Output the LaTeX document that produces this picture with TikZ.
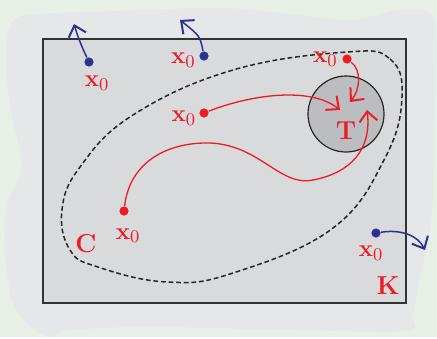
\documentclass[tikz,border=0pt]{standalone}
\usepackage{amsmath,amssymb}
\usepackage{tikz}
\usetikzlibrary{arrows.meta, positioning}
\definecolor{ptred}{HTML}{ED1C24}
\definecolor{ptblue}{HTML}{2E3192}
\definecolor{outside}{HTML}{E7EFE6}
\definecolor{region}{HTML}{E6E7E9}
\definecolor{kfill}{HTML}{D9DADC}
\definecolor{tfill}{HTML}{BCBDC0}
\tikzset{
  bluedot/.style={
    circle,
    fill=ptblue,
    inner sep=0pt,
    minimum size=4.6pt
  },
  reddot/.style={
    bluedot,
    fill=ptred
  },
  initlabel/.style={
    text=ptred,
    inner sep=0pt,
    font=\fontsize{13}{15}\selectfont
  },
  setlabel/.style={
    initlabel,
    font=\fontsize{13}{15}\selectfont\bfseries
  },
  target/.style={
    circle,
    draw=black!85,
    fill=tfill,
    line width=0.6pt,
    minimum size=38pt
  },
  escape/.style={
    -{Straight Barb[length=5pt,width=9pt,line width=1pt]},
    draw=ptblue,
    line width=0.75pt
  },
  reach/.style={
    escape,
    draw=ptred,
    line width=0.65pt
  }
}

\begin{document}
\begin{tikzpicture}[x=0.5pt, y=-0.5pt]
  % background and the outer region
  \fill[outside] (0,0) rectangle (437,337);
  \fill[region] plot[smooth cycle, tension=0.6] coordinates {
    (14,20) (40,14) (120,11) (220,8) (290,14) (350,20) (400,10) (430,14)
    (435,40) (434,120) (433,200) (427,245) (419,280) (413,315) (405,331)
    (300,330) (150,327) (70,330) (50,337) (28,324) (12,300) (6,260)
    (5,225) (9,200) (21,172) (20,150) (9,100) (7,45)};

  % the set K
  \draw[fill=kfill, draw=black!80, line width=0.8pt]
    (43,39) coordinate (Knw) rectangle (406,303) coordinate (Kse);

  % the set C
  \draw[black!85, line width=0.75pt, dash pattern=on 2.4pt off 1.4pt]
    plot[smooth cycle, tension=0.7] coordinates {
    (347,52) (390,59) (402,97) (385,158) (333,228) (233,273) (167,282)
    (98,267) (70,250) (62,210) (80,167) (133,115) (233,70)};

  % target T
  \node[target] (T) at (346,114) {};
  \node[setlabel, below=3.5pt of T.center] (Tlab) {T};
  \node[setlabel] (Clab) at (86,244) {C};
  \node[setlabel, above left=4pt and 3pt of Kse] (Klab) {K};

  % initial points that leave K
  \node[bluedot] (b1) at (89,62) {};
  \node[bluedot] (b2) at (204,56) {};
  \node[bluedot] (b3) at (376,233) {};
  \node[initlabel, below=4.2pt of b1, xshift=4pt] (b1lab) {$\mathbf{x}_0$};
  \node[initlabel, left=1.5pt of b2, yshift=-2pt] (b2lab) {$\mathbf{x}_0$};
  \node[initlabel, below=3.8pt of b3, xshift=-2.5pt] (b3lab) {$\mathbf{x}_0$};

  \coordinate (e1) at (74,24);
  \coordinate (e2) at (180,20);
  \coordinate (e3) at (425,250);
  \draw[escape] (b1) to[bend left=4] (e1);
  \draw[escape] (b2) .. controls (200,36) .. (e2);
  \draw[escape] (b3) .. controls (402,229) and (418,236) .. (e3);

  % initial points that reach T
  \node[reddot] (r1) at (347,59) {};
  \node[reddot] (r2) at (204,113) {};
  \node[reddot] (r3) at (124,211) {};
  \node[initlabel, left=2pt of r1] (r1lab) {$\mathbf{x}_0$};
  \node[initlabel, left=1.2pt of r2, yshift=-2.5pt] (r2lab) {$\mathbf{x}_0$};
  \node[initlabel, below=6pt of r3, xshift=2pt] (r3lab) {$\mathbf{x}_0$};

  \coordinate (t1) at (350,102);
  \coordinate (t2) at (340,110);
  \coordinate (t3) at (367,110);
  \draw[reach] (r1) .. controls (362,70) and (360,90) .. (t1);
  \draw[reach] (r2) .. controls (250,95) and (310,86) .. (t2);
  \draw[reach] (r3) .. controls (130,160) and (170,142) .. (210,143)
    .. controls (260,145) and (280,187) .. (313,180)
    .. controls (350,173) and (372,150) .. (t3);
\end{tikzpicture}
\end{document}
